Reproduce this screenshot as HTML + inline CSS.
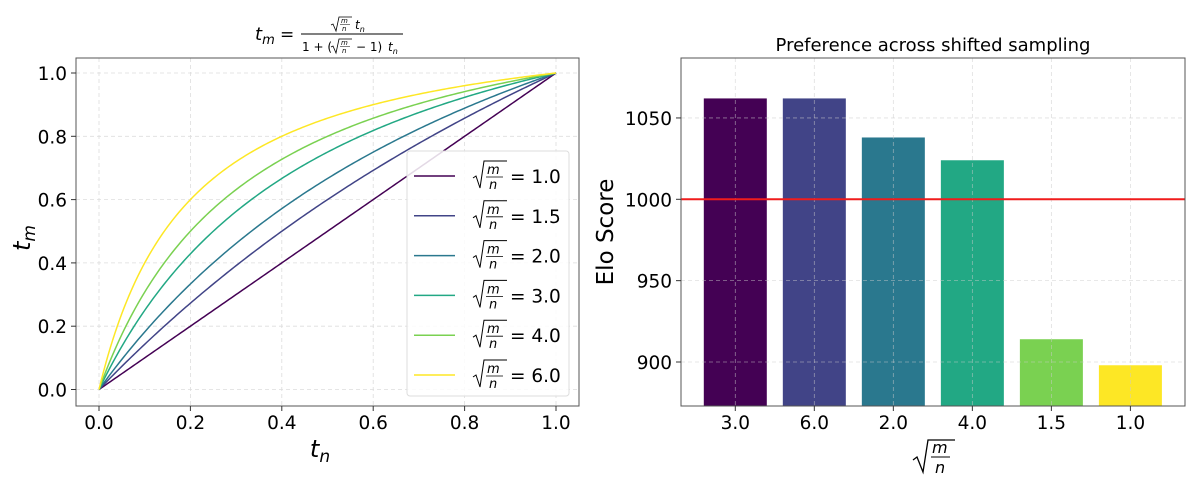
<!DOCTYPE html>
<html><head><meta charset="utf-8"><style>
body{margin:0;background:#fff;}
svg text{font-family:"DejaVu Sans","Liberation Sans",sans-serif;fill:#000;}
.it{font-style:italic;}
</style></head><body>
<svg width="1196" height="484" xmlns="http://www.w3.org/2000/svg">
<g id="left"></g>
<g id="right"></g>
</svg>
<script>
const ratios = [1.0, 1.5, 2.0, 3.0, 4.0, 6.0];
const ratioLabels = ['1.0','1.5','2.0','3.0','4.0','6.0'];
const lineColors = ['#440154','#414487','#2a788e','#22a884','#7ad151','#fde725'];
const xTicksL = [0,0.2,0.4,0.6,0.8,1.0];
const yTicksL = [0,0.2,0.4,0.6,0.8,1.0];

const barCats = ['3.0','6.0','2.0','4.0','1.5','1.0'];
const barVals = [1062, 1062, 1038, 1024, 914, 898];
const barColors = ['#440154','#414487','#2a788e','#22a884','#7ad151','#fde725'];
const yTicksR = [900, 950, 1000, 1050];
const refLine = 1000;

const NS='http://www.w3.org/2000/svg';
function mk(p,tag,a,txt){const e=document.createElementNS(NS,tag);for(const k in a)e.setAttribute(k,a[k]);if(txt!==undefined)e.textContent=txt;p.appendChild(e);return e;}
const FS=18.5;

// LEFT
const L=document.getElementById('left');
const lx=v=>99+v*(556-99), ly=v=>389.5-v*(389.5-73);
xTicksL.forEach(t=>{const g=mk(L,'line',{x1:lx(t),x2:lx(t),y1:58,y2:406,stroke:'#ddd','stroke-dasharray':'4,3','stroke-width':0.8});});
yTicksL.forEach(t=>{const g=mk(L,'line',{x1:76,x2:579,y1:ly(t),y2:ly(t),stroke:'#ddd','stroke-dasharray':'4,3','stroke-width':0.8});});
ratios.forEach((r,i)=>{let d='';for(let k=0;k<=200;k++){const t=k/200;const v=r*t/(1+(r-1)*t);d+=(k?'L':'M')+lx(t).toFixed(2)+','+ly(v).toFixed(2);}
const p=mk(L,'path',{d:d,fill:'none',stroke:lineColors[i],'stroke-width':1.5});

});
mk(L,'rect',{x:76,y:58,width:503,height:348,fill:'none',stroke:'#555','stroke-width':1});
xTicksL.forEach(t=>{mk(L,'line',{x1:lx(t),x2:lx(t),y1:406,y2:411,stroke:'#333'});const e=mk(L,'text',{x:lx(t),y:429,'text-anchor':'middle','font-size':FS},t.toFixed(1));});
yTicksL.forEach(t=>{mk(L,'line',{x1:71,x2:76,y1:ly(t),y2:ly(t),stroke:'#333'});const e=mk(L,'text',{x:67,y:ly(t)+7,'text-anchor':'end','font-size':FS},t.toFixed(1));});
let e=mk(L,'text',{x:320,y:457,'text-anchor':'middle','font-size':24,class:'it'},'t');mk(e,'tspan',{'font-size':17,dy:5},'n');
e=mk(L,'text',{x:0,y:0,'text-anchor':'middle','font-size':24,class:'it',transform:'translate(30,238) rotate(-90)'},'t');mk(e,'tspan',{'font-size':17,dy:5},'m');
// title formula
const T=mk(L,'g',{});
e=mk(T,'text',{x:255,y:40,'font-size':18,class:'it'},'t');mk(e,'tspan',{'font-size':13,dy:4},'m');
mk(T,'text',{x:280,y:40,'font-size':17},'=');
mk(T,'line',{x1:301,x2:403,y1:34,y2:34,stroke:'#000','stroke-width':0.9});
mk(T,'path',{d:'M331,25 L333,24 L336,31 L339,17 L352,17',fill:'none',stroke:'#000','stroke-width':0.8});
mk(T,'text',{x:341,y:23,'font-size':7,class:'it'},'m');mk(T,'line',{x1:340,x2:350,y1:24.5,y2:24.5,stroke:'#000','stroke-width':0.5});mk(T,'text',{x:342,y:31,'font-size':7,class:'it'},'n');
e=mk(T,'text',{x:355,y:29,'font-size':12,class:'it'},'t');mk(e,'tspan',{'font-size':8,dy:3},'n');
mk(T,'text',{x:302,y:51,'font-size':12},'1 + (');
mk(T,'path',{d:'M331,47 L333,46 L336,53 L339,39 L352,39',fill:'none',stroke:'#000','stroke-width':0.8});
mk(T,'text',{x:341,y:45,'font-size':7,class:'it'},'m');mk(T,'line',{x1:340,x2:350,y1:46.5,y2:46.5,stroke:'#000','stroke-width':0.5});mk(T,'text',{x:342,y:53,'font-size':7,class:'it'},'n');
mk(T,'text',{x:356,y:51,'font-size':12},'− 1)');
e=mk(T,'text',{x:388,y:51,'font-size':12,class:'it'},'t');mk(e,'tspan',{'font-size':8,dy:3},'n');
// legend
const G=mk(L,'g',{});
mk(G,'rect',{x:407,y:151,width:162,height:245,rx:3,fill:'#fff','fill-opacity':0.85,stroke:'#ddd'});
ratios.forEach((r,i)=>{const y=176+i*39.8;const g=mk(G,'g',{});


mk(g,'line',{x1:414,x2:455,y1:y,y2:y,stroke:lineColors[i],'stroke-width':1.5});
mk(g,'path',{d:`M473,${y+2} L476,${y} L480,${y+12} L484,${y-15} L507,${y-15}`,fill:'none',stroke:'#000','stroke-width':1});
mk(g,'text',{x:487,y:y-2,'font-size':13,class:'it'},'m');mk(g,'line',{x1:486,x2:503,y1:y+1,y2:y+1,stroke:'#000','stroke-width':0.8});mk(g,'text',{x:489,y:y+13,'font-size':13,class:'it'},'n');
mk(g,'text',{x:510,y:y+7,'font-size':FS},'= '+ratioLabels[i]);});

// RIGHT
const R=document.getElementById('right');
const bx=i=>735.3+i*79.02, by=v=>199.3-(v-1000)*1.627;const bw=63;
barCats.forEach((c,i)=>{const r=mk(R,'rect',{x:bx(i)-bw/2,y:by(barVals[i]),width:bw,height:406-by(barVals[i]),fill:barColors[i]});

});
barCats.forEach((c,i)=>{mk(R,'line',{x1:bx(i),x2:bx(i),y1:58,y2:406,stroke:'#ccc','stroke-opacity':0.6,'stroke-dasharray':'4,3','stroke-width':0.8});});
yTicksR.forEach(t=>{mk(R,'line',{x1:681,x2:1185,y1:by(t),y2:by(t),stroke:'#ccc','stroke-opacity':0.6,'stroke-dasharray':'4,3','stroke-width':0.8});});
const rl=mk(R,'line',{x1:681,x2:1185,y1:by(refLine),y2:by(refLine),stroke:'#f01c1c','stroke-width':2});

mk(R,'rect',{x:681,y:58,width:504,height:348,fill:'none',stroke:'#555','stroke-width':1});
barCats.forEach((c,i)=>{mk(R,'line',{x1:bx(i),x2:bx(i),y1:406,y2:411,stroke:'#333'});const t=mk(R,'text',{x:bx(i),y:429,'text-anchor':'middle','font-size':FS},c);});
yTicksR.forEach(v=>{mk(R,'line',{x1:676,x2:681,y1:by(v),y2:by(v),stroke:'#333'});const t=mk(R,'text',{x:672,y:by(v)+7,'text-anchor':'end','font-size':FS},String(v));});
e=mk(R,'text',{x:933,y:51,'text-anchor':'middle','font-size':18},'Preference across shifted sampling');
e=mk(R,'text',{x:0,y:0,'text-anchor':'middle','font-size':23,transform:'translate(613,232) rotate(-90)'},'Elo Score');
const X=mk(R,'g',{});
mk(X,'path',{d:'M913,460 L917,457 L923,472 L928,440 L955,440',fill:'none',stroke:'#000','stroke-width':1.3});
mk(X,'text',{x:932,y:453,'font-size':16,class:'it'},'m');mk(X,'line',{x1:931,x2:950,y1:457,y2:457,stroke:'#000','stroke-width':1});mk(X,'text',{x:935,y:473,'font-size':16,class:'it'},'n');
</script>
</body></html>
